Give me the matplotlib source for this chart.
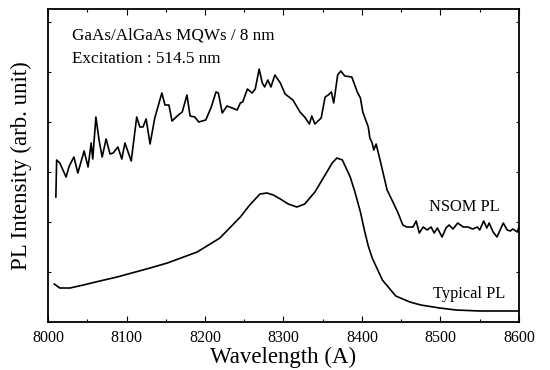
import matplotlib
matplotlib.use("Agg")
import matplotlib.pyplot as plt
from matplotlib.ticker import MultipleLocator, NullFormatter

plt.rcParams.update({
    "font.family": ["Liberation Serif", "DejaVu Serif"],
    "font.size": 10,
})

# NSOM PL spectrum (wavelength in A, intensity in arb. units)
nsom_wl = [8010, 8011, 8015, 8023, 8027, 8033, 8038, 8046, 8051, 8055, 8057,
           8061, 8065, 8069, 8074, 8079, 8083, 8089, 8094, 8098, 8106, 8113,
           8117, 8121, 8125, 8130, 8136, 8145, 8149, 8154, 8158, 8166, 8171,
           8177, 8181, 8187, 8192, 8201, 8208, 8214, 8217, 8222, 8228, 8241,
           8245, 8248, 8254, 8260, 8264, 8269, 8273, 8276, 8280, 8284, 8289,
           8296, 8302, 8312, 8321, 8327, 8333, 8336, 8340, 8348, 8353, 8357,
           8361, 8364, 8369, 8373, 8378, 8387, 8394, 8398, 8401, 8408, 8410,
           8413, 8415, 8418, 8423, 8432, 8440, 8446, 8452, 8457, 8465, 8469,
           8473, 8478, 8483, 8488, 8492, 8496, 8502, 8507, 8511, 8516, 8522,
           8529, 8535, 8541, 8547, 8550, 8555, 8559, 8562, 8567, 8572, 8576,
           8580, 8585, 8589, 8592, 8598, 8600]
nsom_int = [125, 162, 159, 145, 156, 165, 149, 171, 155, 179, 163,
            205, 182, 165, 183, 168, 169, 175, 163, 179, 161, 205,
            195, 195, 203, 178, 204, 229, 217, 217, 201, 207, 210,
            227, 206, 205, 200, 202, 215, 230, 229, 209, 216, 212,
            219, 220, 233, 229, 233, 253, 239, 235, 242, 235, 247,
            239, 228, 222, 210, 205, 198, 206, 198, 204, 225, 227,
            230, 219, 247, 251, 246, 245, 230, 224, 210, 195, 184,
            179, 172, 178, 162, 132, 119, 109, 97, 95, 95, 101,
            89, 95, 92, 95, 89, 94, 85, 94, 97, 93, 99,
            95, 95, 93, 95, 92, 101, 94, 99, 90, 85, 92,
            99, 92, 91, 93, 90, 95]

# Typical (far-field) PL spectrum
typ_wl = [8008, 8015, 8028, 8045, 8066, 8088, 8130, 8152, 8190, 8219, 8245,
          8257, 8270, 8279, 8287, 8296, 8306, 8317, 8327, 8340, 8353, 8362,
          8368, 8375, 8385, 8391, 8398, 8403, 8408, 8413, 8426, 8443, 8461,
          8475, 8499, 8520, 8550, 8600]
typ_int = [38, 34, 34, 37, 41, 45, 54, 59, 70, 84, 105,
           117, 128, 129, 127, 123, 118, 115, 118, 130, 147, 159,
           164, 162, 145, 130, 110, 92, 76, 64, 42, 26, 20,
           17, 14, 12, 11, 11]

fig = plt.figure(figsize=(5.5, 3.7), dpi=100)
ax = fig.add_axes([0.0873, 0.1297, 0.8563, 0.846])

ax.plot(nsom_wl, nsom_int, color="black", lw=1.2)
ax.plot(typ_wl, typ_int, color="black", lw=1.2)

ax.set_xlim(8000, 8600)
ax.set_ylim(0, 313)
ax.xaxis.set_major_locator(MultipleLocator(100))
ax.xaxis.set_minor_locator(MultipleLocator(50))
ax.yaxis.set_major_locator(MultipleLocator(50))
ax.yaxis.set_major_formatter(NullFormatter())
ax.tick_params(which="both", direction="in", top=True, right=True,
               width=0.8, labelsize=11.5)
ax.tick_params(axis="x", which="major", length=4, pad=6)
ax.tick_params(axis="x", which="minor", length=2)
ax.tick_params(axis="y", length=2)
for sp in ax.spines.values():
    sp.set_linewidth(1.3)

ax.set_xlabel("Wavelength (A)", fontsize=16.5, labelpad=0)
ax.set_ylabel("PL Intensity (arb. unit)", fontsize=16.5, labelpad=8)

ax.text(0.05, 0.915, "GaAs/AlGaAs MQWs / 8 nm", transform=ax.transAxes,
        fontsize=12.3, ha="left", va="center")
ax.text(0.05, 0.84, "Excitation : 514.5 nm", transform=ax.transAxes,
        fontsize=12.3, ha="left", va="center")
ax.text(8530, 115, "NSOM PL", fontsize=11.8, ha="center", va="center")
ax.text(8537, 28, "Typical PL", fontsize=11.8, ha="center", va="center")

fig.savefig("out.png", dpi=100)
